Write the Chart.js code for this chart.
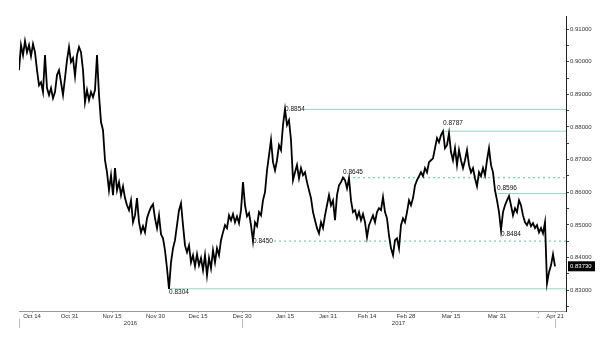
<!DOCTYPE html>
<html>
<head>
<meta charset="utf-8">
<script src="https://cdn.jsdelivr.net/npm/chart.js@4"></script>
<style>
  html, body { margin: 0; padding: 0; background: #fff; }
  #wrap { width: 600px; height: 337px; }
</style>
</head>
<body>
<div id="wrap"><canvas id="c"></canvas></div>
<script>
// price series, one value per bar
const prices = [
  0.8974, 0.9051, 0.9020, 0.9063, 0.9029, 0.9051, 0.9017, 0.9054, 0.9029, 0.8974,
  0.8928, 0.8937, 0.8907, 0.9020, 0.8919, 0.8898, 0.8919, 0.8888, 0.8907, 0.8959,
  0.8974, 0.8937, 0.8898, 0.8950, 0.9005, 0.9045, 0.8999, 0.9011, 0.8956, 0.9020,
  0.9045, 0.9029, 0.8974, 0.8876, 0.8913, 0.8882, 0.8907, 0.8891, 0.8913, 0.9020,
  0.8898, 0.8815, 0.8790, 0.8698, 0.8661, 0.8606, 0.8652, 0.8591, 0.8674, 0.8606,
  0.8631, 0.8591, 0.8618, 0.8582, 0.8560, 0.8545, 0.8575, 0.8508, 0.8529, 0.8582,
  0.8508, 0.8477, 0.8496, 0.8477, 0.8520, 0.8539, 0.8554, 0.8563, 0.8520, 0.8490,
  0.8529, 0.8471, 0.8459, 0.8422, 0.8367, 0.8304, 0.8385, 0.8428, 0.8453, 0.8499,
  0.8545, 0.8566, 0.8499, 0.8437, 0.8416, 0.8437, 0.8385, 0.8407, 0.8373, 0.8410,
  0.8376, 0.8398, 0.8361, 0.8407, 0.8345, 0.8398, 0.8367, 0.8422, 0.8385, 0.8428,
  0.8407, 0.8453, 0.8477, 0.8499, 0.8490, 0.8529, 0.8514, 0.8533, 0.8508, 0.8526,
  0.8505, 0.8545, 0.8631, 0.8560, 0.8526, 0.8536, 0.8499, 0.8450, 0.8508, 0.8496,
  0.8539, 0.8529, 0.8575, 0.8600, 0.8667, 0.8713, 0.8760, 0.8692, 0.8667, 0.8698,
  0.8744, 0.8729, 0.8806, 0.8854, 0.8806, 0.8821, 0.8760, 0.8637, 0.8661, 0.8683,
  0.8643, 0.8674, 0.8652, 0.8661, 0.8631, 0.8606, 0.8582, 0.8539, 0.8514, 0.8490,
  0.8474, 0.8508, 0.8490, 0.8529, 0.8560, 0.8591, 0.8560, 0.8575, 0.8514, 0.8591,
  0.8621, 0.8631, 0.8645, 0.8637, 0.8612, 0.8643, 0.8575, 0.8539, 0.8545, 0.8520,
  0.8539, 0.8514, 0.8533, 0.8508, 0.8462, 0.8499, 0.8514, 0.8529, 0.8508, 0.8539,
  0.8551, 0.8545, 0.8585, 0.8539, 0.8520, 0.8468, 0.8428, 0.8407, 0.8453, 0.8459,
  0.8428, 0.8499, 0.8520, 0.8508, 0.8539, 0.8575, 0.8560, 0.8582, 0.8621, 0.8637,
  0.8649, 0.8661, 0.8649, 0.8674, 0.8661, 0.8692, 0.8698, 0.8704, 0.8735, 0.8766,
  0.8753, 0.8775, 0.8787, 0.8735, 0.8744, 0.8781, 0.8723, 0.8698, 0.8735, 0.8683,
  0.8729, 0.8698, 0.8674, 0.8698, 0.8729, 0.8683, 0.8661, 0.8674, 0.8643, 0.8618,
  0.8661, 0.8649, 0.8674, 0.8652, 0.8698, 0.8735, 0.8683, 0.8661, 0.8606, 0.8575,
  0.8539, 0.8484, 0.8539, 0.8560, 0.8575, 0.8588, 0.8560, 0.8529, 0.8551, 0.8539,
  0.8575, 0.8560, 0.8529, 0.8508, 0.8499, 0.8514, 0.8496, 0.8505, 0.8490, 0.8499,
  0.8477, 0.8490, 0.8474, 0.8508, 0.8321, 0.8355, 0.8376, 0.8410, 0.8373
];

// date ticks (bar index) and their labels
const tickIdx  = [6.5, 25.25, 46.5, 68.25, 89.5, 111.5, 133, 154.5, 174, 193.5, 216, 239, 259.5, 268];
const tickText = ["Oct 14", "Oct 31", "Nov 15", "Nov 30", "Dec 15", "Dec 30", "Jan 15",
                  "Jan 31", "Feb 14", "Feb 28", "Mar 15", "Mar 31", "..", "Apr 21"];
const yearNames  = ["2016", "2017"];
const yearBreaks = [0, 111.5, 268];

// price axis ticks
const yMajor = [0.83, 0.84, 0.85, 0.86, 0.87, 0.88, 0.89, 0.90, 0.91];
const yMinor = [0.825, 0.835, 0.845, 0.855, 0.865, 0.875, 0.885, 0.895, 0.905];

// marked levels and the bar where each was set
const levelValues = [0.8854, 0.8787, 0.8645, 0.8596, 0.8484, 0.8450, 0.8304];
const levelAt     = [133, 212, 162, 239, 241, 117, 75];

const xMax = 273.5;
const MINT = "#96d7bd";
const MINT_DASH = "#7fcfae";
const FONT = '"Liberation Sans", Arial, sans-serif';

// how each level is drawn: line start offset (bars), dashed, label offset
const noteStyle = [
  { line: true,  gap: 10,   dash: false, dy: 0 },
  { line: true,  gap: 0,    dash: false, dy: -8 },
  { line: true,  gap: 0,    dash: true,  dy: -5 },
  { line: true,  gap: 0.5,  dash: false, dy: -5.5 },
  { line: false, gap: 0,    dash: false, dy: 4.5 },
  { line: true,  gap: 10.5, dash: true,  dy: 0 },
  { line: true,  gap: -0.5, dash: false, dy: 3.5 }
];

const levelSets = [];
levelValues.forEach((v, k) => {
  const s = noteStyle[k];
  if (!s.line) return;
  levelSets.push({
    data: [{ x: levelAt[k] + s.gap, y: v }, { x: xMax, y: v }],
    borderColor: s.dash ? MINT_DASH : MINT,
    borderWidth: s.dash ? 1.3 : 1,
    borderDash: s.dash ? [2, 3] : [],
    pointRadius: 0,
    order: 2
  });
});

const notesPlugin = {
  id: "notes",
  afterDatasetsDraw(chart) {
    const { ctx, chartArea } = chart;
    const x = chart.scales.x, y = chart.scales.y;
    ctx.save();
    ctx.font = "6.5px " + FONT;
    ctx.fillStyle = "#111";
    ctx.textBaseline = "middle";
    ctx.textAlign = "left";
    levelValues.forEach((v, k) => {
      ctx.fillText(v.toFixed(4), x.getPixelForValue(levelAt[k]), y.getPixelForValue(v) + noteStyle[k].dy);
    });

    // year row
    ctx.font = "6px " + FONT;
    ctx.fillStyle = "#333";
    ctx.textAlign = "center";
    for (let k = 0; k < yearNames.length; k++) {
      const a = x.getPixelForValue(yearBreaks[k]), b = x.getPixelForValue(yearBreaks[k + 1]);
      ctx.fillText(yearNames[k], (a + b) / 2, chartArea.bottom + 12);
    }
    ctx.strokeStyle = "#bbb";
    ctx.lineWidth = 1;
    yearBreaks.forEach(bk => {
      const p = Math.round(x.getPixelForValue(bk)) + 0.5;
      ctx.beginPath();
      ctx.moveTo(p, chartArea.bottom + 8);
      ctx.lineTo(p, chartArea.bottom + 17);
      ctx.stroke();
    });

    // last price tag
    const last = prices[prices.length - 1];
    const ly = y.getPixelForValue(last);
    ctx.fillStyle = "#000";
    ctx.fillRect(chartArea.right + 2, ly - 5, 27, 10);
    ctx.fillStyle = "#fff";
    ctx.textAlign = "left";
    ctx.fillText(last.toFixed(5), chartArea.right + 4, ly + 0.5);
    ctx.restore();
  }
};

new Chart(document.getElementById("c"), {
  type: "line",
  data: {
    datasets: [{
      data: prices.map((p, i) => ({ x: i, y: p })),
      borderColor: "#000",
      borderWidth: 1.8,
      pointRadius: 0,
      tension: 0,
      order: 1
    }].concat(levelSets)
  },
  options: {
    responsive: true,
    maintainAspectRatio: false,
    animation: false,
    layout: { padding: { left: 19, top: 16, right: 0, bottom: 0 } },
    plugins: { legend: { display: false }, tooltip: { enabled: false } },
    scales: {
      x: {
        type: "linear",
        min: 0,
        max: xMax,
        afterBuildTicks: s => { s.ticks = tickIdx.map(v => ({ value: v })); },
        afterFit: s => { s.height = 26; },
        ticks: {
          autoSkip: false,
          maxRotation: 0,
          padding: 0,
          color: "#333",
          font: { family: FONT, size: 6 },
          callback: (v, i) => tickText[i]
        },
        grid: { drawOnChartArea: false, tickLength: 2, color: "#aaa" },
        border: { color: "#999" }
      },
      y: {
        position: "right",
        min: 0.8236,
        max: 0.914,
        afterBuildTicks: s => {
          s.ticks = yMajor.concat(yMinor).sort((a, b) => a - b).map(v => ({ value: v }));
        },
        afterFit: s => { s.width = 34; },
        ticks: {
          padding: 1,
          color: "#333",
          font: { family: FONT, size: 6 },
          callback: v => yMajor.some(m => Math.abs(m - v) < 1e-6) ? v.toFixed(5) : ""
        },
        grid: { drawOnChartArea: false, tickLength: 3, color: "#444" },
        border: { color: "#222" }
      }
    }
  },
  plugins: [notesPlugin]
});
</script>
</body>
</html>
